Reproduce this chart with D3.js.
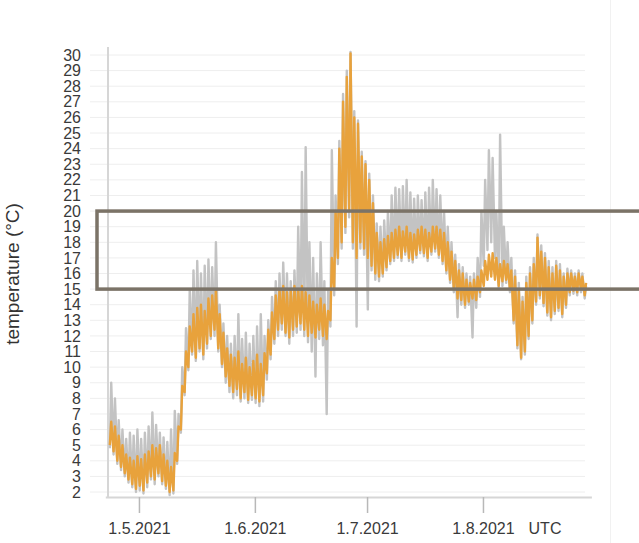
<!DOCTYPE html>
<html>
<head>
<meta charset="utf-8">
<script src="https://cdn.jsdelivr.net/npm/d3@7"></script>
<style>
  body { margin: 0; background: #fff; }
  svg { display: block; font-family: "Liberation Sans", Arial, sans-serif; }
</style>
</head>
<body>
<div id="chart"></div>
<script>
const width = 639, height = 543;

// daily series, first day 23.4.2021
const startDay = Date.UTC(2021, 3, 23);
const orangeMin = [5.0,4.6,4.0,3.6,3.2,2.8,2.5,2.2,2.4,2.1,2.6,3.0,2.8,3.2,2.7,2.4,2.0,2.1,4.0,6.0,
  8.4,10.0,11.0,10.6,11.2,10.8,11.5,12.0,12.4,11.2,10.2,9.4,8.8,8.4,8.6,8.0,8.4,7.9,8.2,8.0,
  7.8,8.2,9.6,10.8,11.8,12.4,12.8,12.2,11.9,12.4,12.6,12.8,12.4,12.0,12.2,11.9,12.4,12.0,11.8,13.0,
  15.0,17.0,18.0,19.0,20.0,18.0,17.0,18.0,17.6,17.0,16.5,16.0,15.8,16.0,16.4,16.8,17.0,17.2,17.0,17.4,
  17.0,16.9,17.2,17.5,17.3,17.0,17.4,17.6,17.2,16.8,16.2,15.6,15.0,14.4,14.3,14.0,14.2,14.4,14.3,14.8,
  15.2,15.6,15.8,15.6,15.2,15.5,15.6,15.0,13.0,11.4,10.6,11.0,12.0,13.0,14.2,14.6,14.1,13.5,13.2,13.6,
  13.8,13.4,14.0,14.8,14.9,14.8,15.0,14.6];
const orangeMax = [6.5,6.2,5.6,5.0,4.4,4.2,4.0,4.3,4.1,4.4,4.6,5.0,4.8,5.0,4.4,4.0,3.6,4.5,6.2,8.8,
  11.0,12.6,13.4,13.8,14.0,13.6,14.4,14.6,15.0,13.4,12.2,11.2,10.8,10.6,11.0,10.2,10.6,10.0,10.4,10.8,
  10.2,10.9,12.4,13.5,14.6,15.0,15.2,14.8,15.0,15.2,15.0,15.2,14.8,14.6,14.2,14.0,14.4,14.0,13.6,17.0,
  20.0,24.0,27.0,28.6,30.1,26.0,25.6,23.5,23.0,22.0,20.5,18.6,18.0,18.2,18.4,18.6,18.8,19.0,18.7,19.0,
  18.6,18.5,18.8,19.0,18.8,18.6,19.0,19.0,18.8,18.6,18.0,17.4,16.8,16.2,16.0,15.6,15.4,15.6,15.8,16.2,
  16.8,17.2,17.3,17.0,16.6,16.8,16.6,16.2,15.8,15.0,14.2,15.4,16.0,16.6,18.3,17.4,17.0,16.4,16.0,16.5,
  16.2,15.8,16.0,16.0,15.8,16.0,15.8,15.4];
const grayMin = [4.8,4.4,3.8,3.4,3.0,2.6,2.3,2.0,2.1,1.9,2.3,2.8,2.5,3.0,2.5,2.2,1.8,1.9,3.8,5.8,
  8.2,9.8,10.8,10.4,11.0,10.5,11.2,11.8,12.0,11.0,10.0,9.0,8.4,8.0,8.2,7.8,8.0,7.7,7.9,7.7,
  7.5,7.8,9.2,10.5,11.5,12.0,12.4,12.0,11.5,12.0,12.2,12.4,12.0,11.6,11.0,9.4,11.8,11.4,7.0,12.6,
  14.6,16.6,17.6,18.6,19.6,17.6,12.6,17.6,17.2,13.7,16.2,15.6,15.5,15.8,16.2,16.6,16.8,17.0,16.8,17.2,
  16.8,16.7,17.0,17.3,17.1,16.8,17.2,17.4,17.0,16.6,16.0,15.4,14.8,13.2,14.0,13.8,14.0,11.9,13.8,14.5,
  16.5,17.5,18.0,17.0,15.0,15.2,15.4,14.8,12.8,11.2,10.5,10.8,11.8,12.8,14.0,14.4,13.9,13.3,13.0,13.4,
  13.6,13.2,13.8,14.6,14.7,14.6,14.8,14.4];
const grayMax = [9.0,8.0,6.6,6.0,5.4,5.8,5.6,6.0,5.4,5.8,6.2,7.1,6.3,5.8,5.5,5.2,6.0,7.2,7.0,10.0,
  12.5,15.0,16.2,16.8,16.0,16.5,16.9,16.4,18.0,14.0,12.8,12.0,11.5,12.0,13.4,11.8,12.2,11.5,12.0,12.6,
  13.4,12.0,13.0,14.5,15.5,16.0,16.7,16.0,15.5,16.2,19.0,22.5,24.1,18.0,17.0,16.0,18.0,15.5,15.0,23.9,
  21.0,24.5,27.5,29.0,30.2,26.4,25.8,23.8,23.2,22.4,21.0,19.2,19.0,19.4,20.0,21.0,21.5,21.4,21.6,22.0,
  21.2,20.8,21.0,20.7,21.2,21.5,22.0,21.4,21.0,20.0,19.0,18.0,17.2,16.6,16.4,16.0,15.8,16.0,17.0,20.0,
  22.0,23.9,23.4,20.0,24.9,19.0,18.0,17.0,16.2,15.4,14.5,15.8,16.4,17.0,18.5,17.8,17.3,16.8,16.4,16.8,
  16.6,16.0,16.3,16.2,16.0,16.2,16.0,15.2];

const yTicks = d3.range(2, 31);
const xTicks = [Date.UTC(2021, 4, 1), Date.UTC(2021, 5, 1), Date.UTC(2021, 6, 1), Date.UTC(2021, 7, 1)];
const band = [15, 20];

const svg = d3.select("#chart").append("svg")
  .attr("width", width)
  .attr("height", height);

const x = d3.scaleUtc()
  .domain([new Date(Date.UTC(2021, 3, 22)), new Date(Date.UTC(2021, 7, 30))])
  .range([105.3, 591.4]);

const y = d3.scaleLinear()
  .domain([2, 30])
  .range([492, 55]);

// min early morning, max in the afternoon
function toPoints(mins, maxs) {
  const pts = [];
  mins.forEach(function (v, i) {
    const t0 = startDay + i * 864e5;
    pts.push([t0 + 5 * 36e5, v]);
    pts.push([t0 + 14 * 36e5, maxs[i]]);
  });
  return pts;
}

// faint panel border on the right
svg.append("line")
  .attr("x1", 610.5).attr("x2", 610.5)
  .attr("y1", 0).attr("y2", height)
  .attr("stroke", "#f1f1f1");

// grid
svg.append("g")
  .selectAll("line")
  .data(yTicks)
  .enter().append("line")
  .attr("x1", 90).attr("x2", 585)
  .attr("y1", d => y(d)).attr("y2", d => y(d))
  .attr("stroke", "#eeeeee");

// y axis
const yAxis = svg.append("g")
  .attr("transform", "translate(108,0)")
  .call(d3.axisLeft(y).tickValues(yTicks).tickSize(0).tickPadding(27));
yAxis.select(".domain").remove();
yAxis.selectAll("text")
  .attr("font-size", 16)
  .attr("font-family", "Liberation Sans, Arial, sans-serif")
  .attr("fill", "#3a3a3a");
svg.append("line")
  .attr("x1", 108).attr("x2", 108)
  .attr("y1", 47).attr("y2", 497)
  .attr("stroke", "#d6d6d6")
  .attr("stroke-width", 2);

// x axis
const xAxis = svg.append("g")
  .attr("transform", "translate(0,497)")
  .call(d3.axisBottom(x)
    .tickValues(xTicks.map(d => new Date(d)))
    .tickFormat(d3.utcFormat("%-d.%-m.%Y"))
    .tickSize(16)
    .tickSizeOuter(0)
    .tickPadding(10));
xAxis.select(".domain").attr("stroke", "#d6d6d6").attr("stroke-width", 2);
xAxis.selectAll(".tick line").attr("stroke", "#b8b8b8").attr("stroke-width", 1.5);
xAxis.selectAll("text")
  .attr("font-size", 16)
  .attr("font-family", "Liberation Sans, Arial, sans-serif")
  .attr("fill", "#3a3a3a");
svg.append("text")
  .attr("x", 545).attr("y", 534)
  .attr("text-anchor", "middle")
  .attr("font-size", 16)
  .attr("fill", "#3a3a3a")
  .text("UTC");

svg.append("text")
  .attr("transform", "translate(19,274) rotate(-90)")
  .attr("text-anchor", "middle")
  .attr("font-size", 19)
  .attr("fill", "#333")
  .text("temperature (°C)");

// series
const line = d3.line()
  .x(d => x(new Date(d[0])))
  .y(d => y(d[1]));

svg.append("path")
  .datum(toPoints(grayMin, grayMax))
  .attr("d", line)
  .attr("fill", "none")
  .attr("stroke", "#c3c3c3")
  .attr("stroke-width", 2.4)
  .attr("stroke-linejoin", "round");

svg.append("path")
  .datum(toPoints(orangeMin, orangeMax))
  .attr("d", line)
  .attr("fill", "none")
  .attr("stroke", "#e8a23c")
  .attr("stroke-width", 2.4)
  .attr("stroke-linejoin", "round");

// highlighted range 15..20 °C
svg.append("rect")
  .attr("x", 97)
  .attr("y", y(band[1]))
  .attr("width", 600)
  .attr("height", y(band[0]) - y(band[1]))
  .attr("fill", "none")
  .attr("stroke", "#7b7367")
  .attr("stroke-width", 3.5);
</script>
</body>
</html>
